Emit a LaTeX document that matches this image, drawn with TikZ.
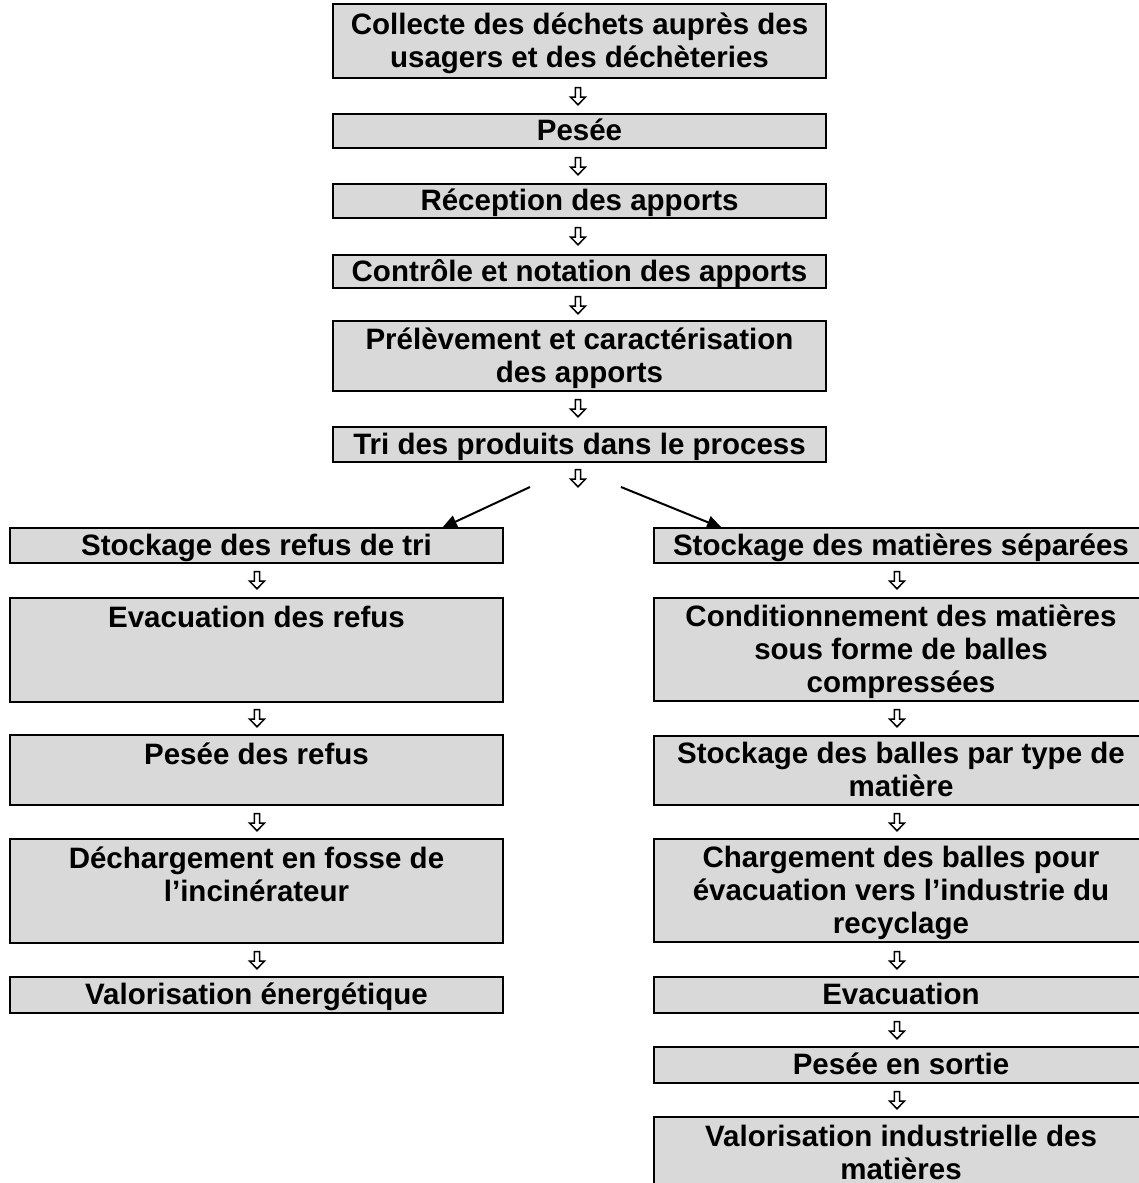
\documentclass[tikz,border=0pt]{standalone}
\usepackage{fontspec}
\setmainfont{Liberation Sans}
\usetikzlibrary{arrows.meta}
\definecolor{boxgray}{RGB}{217,217,217}
\newcommand{\st}{\rule[-7pt]{0pt}{33pt}}
\newcommand{\bxc}[3]{\parbox[c][#2][c]{#1}{\centering #3}}
\newcommand{\bxt}[3]{\parbox[c][#2][t]{#1}{\centering\vspace*{3pt}#3}}
\begin{document}
\begin{tikzpicture}[x=1pt,y=-1pt,
  box/.style={draw, line width=2.6pt, fill=boxgray, inner sep=0pt, outer sep=0pt,
    font=\fontsize{29.5}{33}\selectfont\bfseries},
  dn/.pic={\draw[line width=1.5pt, fill=white, line join=miter]
     (-2.6,-8.5) -- (2.6,-8.5) -- (2.6,1) -- (7.5,1) -- (0,8.8) -- (-7.5,1) -- (-2.6,1) -- cycle;},
  diag/.style={line width=2pt, -{Triangle[length=15pt,width=13pt]}}]
\useasboundingbox (0,0) rectangle (1139,1183);
\clip (0,0) rectangle (1139,1183);
% centre column
\node[box] (c1) at (579.5,41) {\bxc{493pt}{74pt}{\st Collecte des déchets auprès des\\\st usagers et des déchèteries}};
\node[box] (c2) at (579.5,131) {\bxc{493pt}{34pt}{\st Pesée}};
\node[box] (c3) at (579.5,201) {\bxc{493pt}{34pt}{\st Réception des apports}};
\node[box] (c4) at (579.5,271.5) {\bxc{493pt}{33pt}{\st Contrôle et notation des apports}};
\node[box] (c5) at (579.5,356) {\bxc{493pt}{70pt}{\st Prélèvement et caractérisation\\\st des apports}};
\node[box] (c6) at (579.5,444.5) {\bxc{493pt}{35pt}{\st Tri des produits dans le process}};
\pic at (578,96) {dn};
\pic at (578,166) {dn};
\pic at (578,236) {dn};
\pic at (578,305) {dn};
\pic at (578,408) {dn};
\pic at (578,478) {dn};
% left column
\node[box] (l1) at (256.5,545.5) {\bxc{493pt}{35pt}{\st Stockage des refus de tri}};
\node[box] (l2) at (256.5,650) {\bxt{493pt}{104pt}{\st Evacuation des refus}};
\node[box] (l3) at (256.5,770) {\bxt{493pt}{70pt}{\st Pesée des refus}};
\node[box] (l4) at (256.5,891) {\bxt{493pt}{104pt}{\st Déchargement en fosse de\\\st l’incinérateur}};
\node[box] (l5) at (256.5,995) {\bxc{493pt}{36pt}{\st Valorisation énergétique}};
\pic at (257,580) {dn};
\pic at (257,718) {dn};
\pic at (257,822) {dn};
\pic at (257,960) {dn};
% right column
\node[box] (r1) at (901,545.5) {\bxc{494pt}{35pt}{\st Stockage des matières séparées}};
\node[box] (r2) at (901,649.5) {\bxc{494pt}{103pt}{\st Conditionnement des matières\\\st sous forme de balles\\\st compressées}};
\node[box] (r3) at (901,770.5) {\bxc{494pt}{69pt}{\st Stockage des balles par type de\\\st matière}};
\node[box] (r4) at (901,890.5) {\bxc{494pt}{103pt}{\st Chargement des balles pour\\\st évacuation vers l’industrie du\\\st recyclage}};
\node[box] (r5) at (901,995) {\bxc{494pt}{36pt}{\st Evacuation}};
\node[box] (r6) at (901,1065) {\bxc{494pt}{36pt}{\st Pesée en sortie}};
\node[box] (r7) at (901,1153.5) {\bxc{494pt}{73pt}{\st Valorisation industrielle des\\\st matières}};
\pic at (897,580) {dn};
\pic at (897,718) {dn};
\pic at (897,822) {dn};
\pic at (897,960) {dn};
\pic at (897,1030) {dn};
\pic at (897,1100) {dn};
% split arrows
\coordinate (sl) at (530,487);
\coordinate (sr) at (621,487);
\draw[diag] (sl) -- ([xshift=185.5pt]l1.north);
\draw[diag] (sr) -- ([xshift=-179pt]r1.north);
\end{tikzpicture}
\end{document}
